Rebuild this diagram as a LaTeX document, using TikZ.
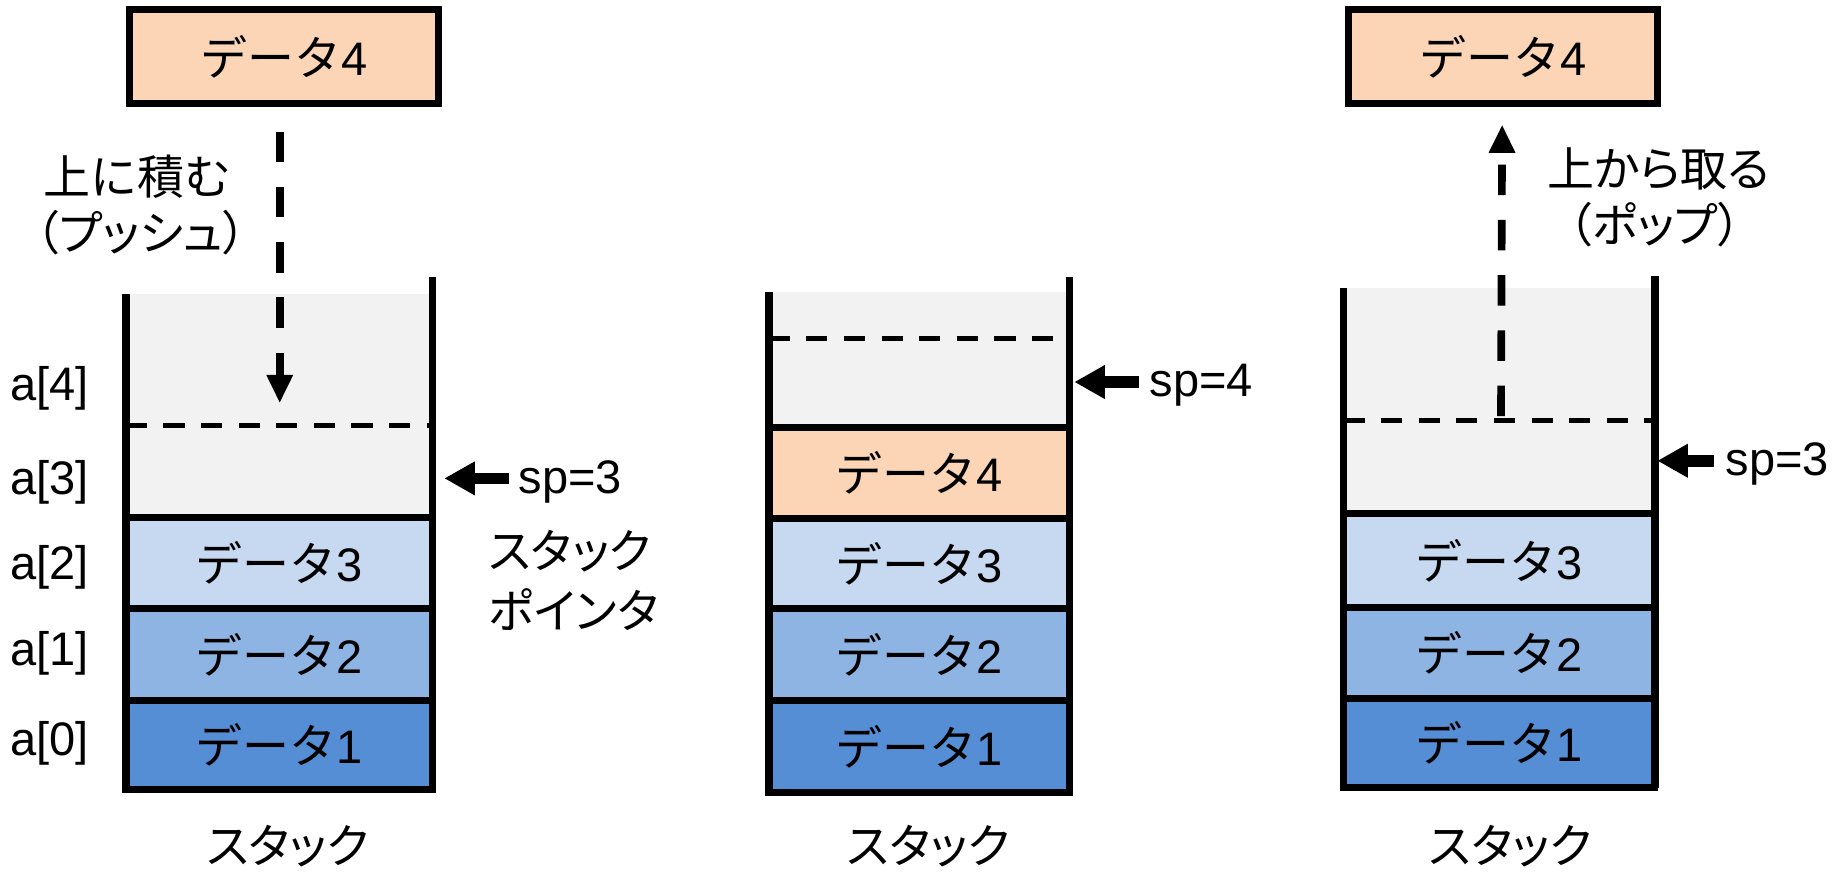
\documentclass[tikz,border=0pt]{standalone}
\usepackage{fontspec}
\setmainfont{Liberation Sans}
\newfontfamily\jp{Noto Sans CJK JP}
\newfontfamily\jpp[RawFeature=+palt]{Noto Sans CJK JP}
\usetikzlibrary{arrows.meta}
\definecolor{peach}{HTML}{FBD5B5}
\definecolor{gr}{HTML}{F2F2F2}
\definecolor{bthree}{HTML}{C6D9F1}
\definecolor{btwo}{HTML}{8EB4E3}
\definecolor{bone}{HTML}{558ED5}
\newcommand\datlbl[1]{{\jp データ}#1}
\newcommand\mkcell[7]{\node[cellbox, fill=#6, minimum width={#4-#2}, minimum height={#5-#3}] (#1) at ({(#2+#4)/2},{(#3+#5)/2}) {#7};}
\begin{document}
\begin{tikzpicture}[x=1pt,y=-1pt,
  txt/.style={font=\fontsize{40}{46}\selectfont, inner sep=0pt},
  cellbox/.style={draw=black, line width=6pt, inner sep=0pt, outer sep=0pt, font=\fontsize{40}{46}\selectfont},
  wall/.style={line width=6.5pt},
  dline/.style={line width=4.3pt, dash pattern=on 18pt off 14pt},
  dasharrow/.style={line width=6.5pt, dash pattern=on 26pt off 21pt, -{Triangle[length=24pt,width=21pt]}},
  sparrow/.style={line width=10pt, -{Triangle[length=26pt,width=27pt]}}]
\useasboundingbox (0,0) rectangle (1568,742);
% ---------- left panel ----------
\mkcell{topA}{110}{8}{373}{88}{peach}{\datlbl4}
\fill[gr] (107,250) rectangle (368,440);
\draw[dline] (107,362) -- (368,362);
\mkcell{Athree}{107}{440}{368}{518}{bthree}{\datlbl3}
\mkcell{Atwo}{107}{518}{368}{596}{btwo}{\datlbl2}
\mkcell{Aone}{107}{596}{368}{672}{bone}{\datlbl1}
\draw[wall] (107,250) -- (Aone.south west);
\draw[wall] (368,236) -- (Aone.south east);
\coordinate (pushs) at (238,112);
\coordinate (pushe) at (238,343);
\draw[dasharrow] (pushs) -- (pushe);
\node[txt] (pushl1) at (117,150) {\jp 上に積む};
\node[txt] (pushl2) at (120,198) {\jpp （プッシュ）};
\node[txt] (a4) at (42,330) {a[4]};
\node[txt] (a3) at (42,410) {a[3]};
\node[txt] (a2) at (42,483) {a[2]};
\node[txt] (a1) at (42,556) {a[1]};
\node[txt] (a0) at (42,632) {a[0]};
\node[txt, anchor=west] (spA) at (441,410) {sp=3};
\coordinate (spAt) at (378,407);
\draw[sparrow] (spA.west) ++(-8,-3) coordinate (spAs) (spAs) -- (spAt);
\node[txt] (spname1) at (485,469) {\jpp スタック};
\node[txt] (spname2) at (488,519) {\jpp ポインタ};
\node[txt] (stA) at (245,720) {\jpp スタック};
% ---------- middle panel ----------
\fill[gr] (654,248) rectangle (910,364);
\draw[dline] (654,288) -- (910,288);
\mkcell{Bfour}{654}{364}{910}{441}{peach}{\datlbl4}
\mkcell{Bthree}{654}{441}{910}{518}{bthree}{\datlbl3}
\mkcell{Btwo}{654}{518}{910}{596}{btwo}{\datlbl2}
\mkcell{Bone}{654}{596}{910}{674}{bone}{\datlbl1}
\draw[wall] (654,248) -- (Bone.south west);
\draw[wall] (910,236) -- (Bone.south east);
\node[txt, anchor=west] (spB) at (978,328) {sp=4};
\coordinate (spBt) at (914,325);
\draw[sparrow] (spB.west) ++(-9,-3) coordinate (spBs) (spBs) -- (spBt);
\node[txt] (stB) at (790,720) {\jpp スタック};
% ---------- right panel ----------
\mkcell{topC}{1147}{8}{1410}{88}{peach}{\datlbl4}
\fill[gr] (1143,245) rectangle (1408,437);
\draw[dline] (1143,358) -- (1408,358);
\mkcell{Cthree}{1143}{437}{1408}{517}{bthree}{\datlbl3}
\mkcell{Ctwo}{1143}{517}{1408}{594}{btwo}{\datlbl2}
\mkcell{Cone}{1143}{594}{1408}{670}{bone}{\datlbl1}
\draw[wall] (1143,245) -- (Cone.south west);
\draw[wall] (1408,235) -- (Cone.south east);
\coordinate (pops) at (1277,354);
\coordinate (pope) at (1278,106);
\draw[dasharrow] (pops) -- (pope);
\node[txt] (popl1) at (1411,144) {\jpp 上から取る};
\node[txt] (popl2) at (1408,191) {\jpp （ポップ）};
\node[txt, anchor=west] (spC) at (1468,395) {sp=3};
\coordinate (spCt) at (1410,392);
\draw[sparrow] (spC.west) ++(-10,-3) coordinate (spCs) (spCs) -- (spCt);
\node[txt] (stC) at (1285,720) {\jpp スタック};
\end{tikzpicture}
\end{document}
